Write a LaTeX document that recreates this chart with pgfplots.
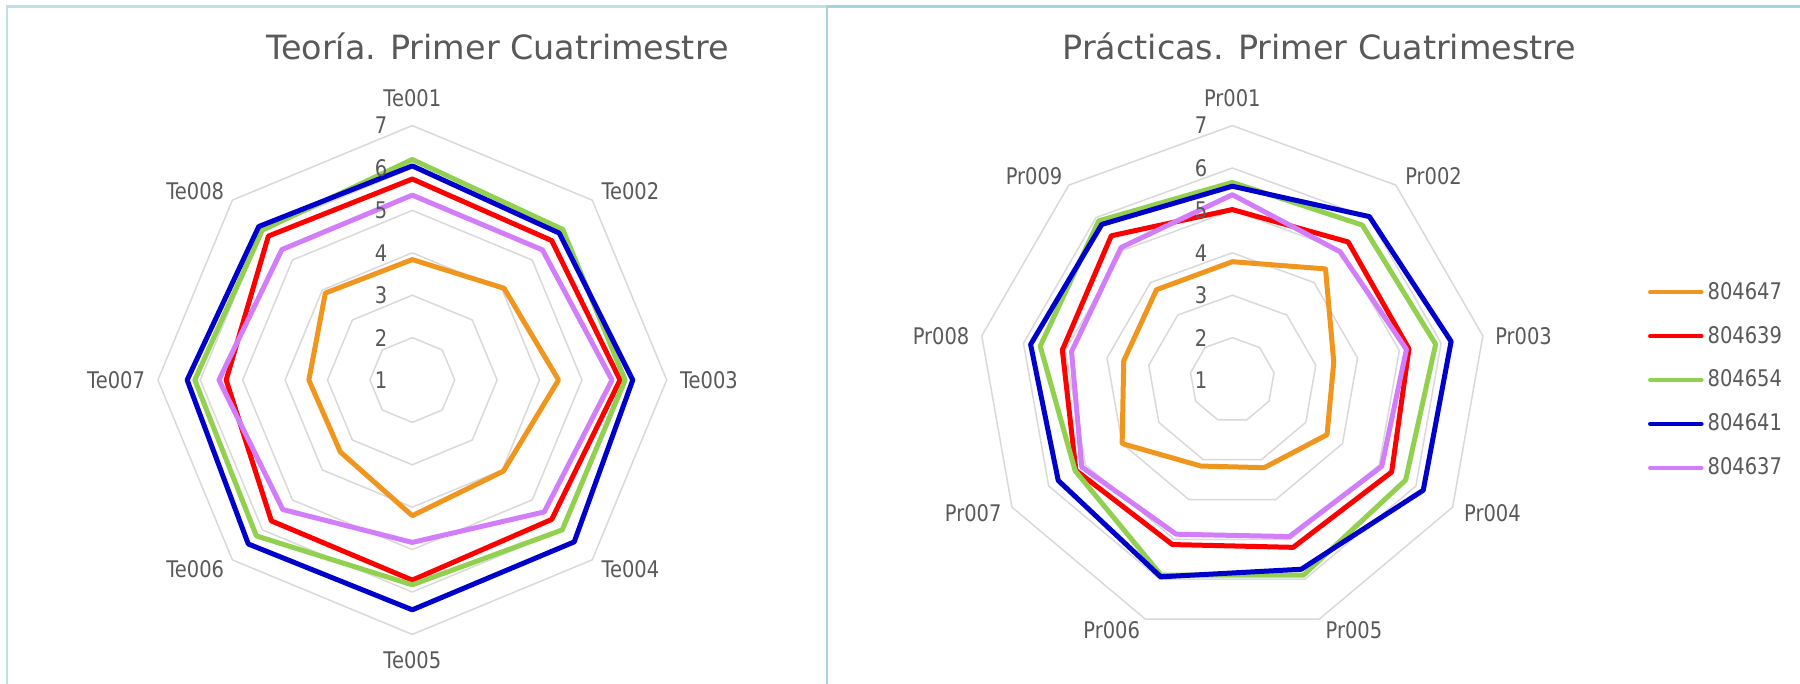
\documentclass[border=0pt]{standalone}
\usepackage{fontspec}
\setmainfont{DejaVu Sans}
\newfontfamily\lblfont{DejaVu Sans}[FakeStretch=0.85]
\usepackage{pgfplots}
\usepackage{pgfplotstable}
\pgfplotsset{compat=1.18}

\definecolor{cOrange}{RGB}{240,150,30}
\definecolor{cRed}{RGB}{255,0,0}
\definecolor{cGreen}{RGB}{146,208,80}
\definecolor{cBlue}{RGB}{0,0,204}
\definecolor{cPurple}{RGB}{210,125,250}
\definecolor{txt}{RGB}{89,89,89}
\definecolor{ringgray}{RGB}{217,217,217}
\definecolor{frameL}{RGB}{190,224,235}
\definecolor{frameR}{RGB}{166,210,224}

% Teoria: spoke angle (deg) and score of each student
\pgfplotstableread{
ang   s804647 s804639 s804654 s804641 s804637
90    3.84    5.74    6.20    6.05    5.36
45    4.06    5.65    6.02    5.90    5.34
0     4.45    5.90    6.02    6.20    5.71
-45   4.04    5.65    6.00    6.40    5.40
-90   4.20    5.72    5.83    6.42    4.83
-135  3.40    5.70    6.20    6.47    5.32
180   3.44    5.39    6.13    6.31    5.56
135   3.90    5.80    6.00    6.12    5.35
}\teoria

% Practicas
\pgfplotstableread{
ang   s804647 s804639 s804654 s804641 s804637
90    3.79    5.02    5.66    5.57    5.37
50    4.42    5.25    5.77    6.03    4.95
10    3.43    5.23    5.87    6.24    5.17
-30   3.58    5.34    5.72    6.20    5.07
-70   3.20    5.20    5.90    5.75    4.93
-110  3.16    5.13    5.90    5.94    4.87
-150  4.00    5.26    5.28    5.74    5.10
170   3.60    5.07    5.60    5.83    4.85
130   3.78    5.44    5.90    5.79    5.08
}\practicas

\pgfplotsset{
  radar/.style={
    hide axis, clip=false, anchor=center,
    x=21.2pt, y=21.2pt,
    xmin=-7, xmax=7, ymin=-7, ymax=7,
  },
  ring/.style={ringgray, line width=0.75pt, forget plot, data cs=polar},
  serie/.style={#1, line width=2.5pt, line join=round, data cs=polar},
}
\tikzset{
  lbl/.style={font=\lblfont\fontsize{11.45}{13}\selectfont, text=txt, inner sep=0pt},
  ttl/.style={font=\fontsize{16.7}{20}\selectfont, text=txt, inner sep=0pt, anchor=base},
}

\begin{document}
\begin{tikzpicture}

% panel frames
\draw[frameL, line width=1.15pt] (3.5pt,-345pt) -- (3.5pt,-3.25pt) -- (413.6pt,-3.25pt);
\draw[frameR, line width=1.15pt] (413.65pt,-345pt) -- (413.65pt,-3.25pt) -- (905pt,-3.25pt);

\node[ttl] at (248.75pt,-29.65pt) {Teoría. Primer Cuatrimestre};
\node[ttl] at (659.7pt,-29.65pt) {Prácticas. Primer Cuatrimestre};

% ---- Teoria ----
\begin{axis}[radar, at={(206.15pt,-190pt)}]
\pgfplotsinvokeforeach{1,...,6}{
  \addplot[ring] table[x=ang, y expr=#1] {\teoria} -- cycle;
}
\addplot[serie=cOrange] table[x=ang, y expr=\thisrow{s804647}-1] {\teoria} -- cycle;
\addplot[serie=cRed]    table[x=ang, y expr=\thisrow{s804639}-1] {\teoria} -- cycle;
\addplot[serie=cGreen]  table[x=ang, y expr=\thisrow{s804654}-1] {\teoria} -- cycle;
\addplot[serie=cBlue]   table[x=ang, y expr=\thisrow{s804641}-1] {\teoria} -- cycle;
\addplot[serie=cPurple] table[x=ang, y expr=\thisrow{s804637}-1] {\teoria} -- cycle;

\node[lbl, xshift=-15.6pt] at (axis cs:0,0) {1};
\node[lbl, xshift=-15.6pt] at (axis cs:0,1) {2};
\node[lbl, xshift=-15.6pt] at (axis cs:0,2) {3};
\node[lbl, xshift=-15.6pt] at (axis cs:0,3) {4};
\node[lbl, xshift=-15.6pt] at (axis cs:0,4) {5};
\node[lbl, xshift=-15.6pt] at (axis cs:0,5) {6};
\node[lbl, xshift=-15.6pt] at (axis cs:0,6) {7};

\node[lbl, anchor=south, yshift=136.2pt] at (axis cs:0,0) {Te001};
\node[lbl, anchor=south west, xshift=94.4pt, yshift=89.9pt] at (axis cs:0,0) {Te002};
\node[lbl, anchor=west, xshift=133.7pt] at (axis cs:0,0) {Te003};
\node[lbl, anchor=north west, xshift=94.4pt, yshift=-89.9pt] at (axis cs:0,0) {Te004};
\node[lbl, anchor=north, yshift=-135.5pt] at (axis cs:0,0) {Te005};
\node[lbl, anchor=north east, xshift=-93.9pt, yshift=-89.9pt] at (axis cs:0,0) {Te006};
\node[lbl, anchor=east, xshift=-133.5pt] at (axis cs:0,0) {Te007};
\node[lbl, anchor=south east, xshift=-93.9pt, yshift=89.9pt] at (axis cs:0,0) {Te008};
\end{axis}

% ---- Practicas ----
\begin{axis}[radar, at={(616.15pt,-190pt)},
  legend style={at={(1.2003,0.5)}, anchor=west, draw=none, fill=none,
    inner sep=0pt, outer sep=0pt, row sep=11.95pt, column sep=2pt,
    font=\lblfont\fontsize{11.45}{13}\selectfont, text=txt,
    nodes={inner sep=0pt}},
  legend cell align=left,
  legend image code/.code={\draw[#1, line width=2.2pt, line cap=round] (1.1pt,0pt) -- (26.7pt,0pt);},
]
\pgfplotsinvokeforeach{1,...,6}{
  \addplot[ring] table[x=ang, y expr=#1] {\practicas} -- cycle;
}
\addplot[serie=cOrange] table[x=ang, y expr=\thisrow{s804647}-1] {\practicas} -- cycle;
\addlegendentry{804647}
\addplot[serie=cRed]    table[x=ang, y expr=\thisrow{s804639}-1] {\practicas} -- cycle;
\addlegendentry{804639}
\addplot[serie=cGreen]  table[x=ang, y expr=\thisrow{s804654}-1] {\practicas} -- cycle;
\addlegendentry{804654}
\addplot[serie=cBlue]   table[x=ang, y expr=\thisrow{s804641}-1] {\practicas} -- cycle;
\addlegendentry{804641}
\addplot[serie=cPurple] table[x=ang, y expr=\thisrow{s804637}-1] {\practicas} -- cycle;
\addlegendentry{804637}

\node[lbl, xshift=-15.6pt] at (axis cs:0,0) {1};
\node[lbl, xshift=-15.6pt] at (axis cs:0,1) {2};
\node[lbl, xshift=-15.6pt] at (axis cs:0,2) {3};
\node[lbl, xshift=-15.6pt] at (axis cs:0,3) {4};
\node[lbl, xshift=-15.6pt] at (axis cs:0,4) {5};
\node[lbl, xshift=-15.6pt] at (axis cs:0,5) {6};
\node[lbl, xshift=-15.6pt] at (axis cs:0,6) {7};

\node[lbl, anchor=south, yshift=136.2pt] at (axis cs:0,0) {Pr001};
\node[lbl, anchor=south west, xshift=86.3pt, yshift=97.4pt] at (axis cs:0,0) {Pr002};
\node[lbl, anchor=west, xshift=131.3pt, yshift=22.1pt] at (axis cs:0,0) {Pr003};
\node[lbl, anchor=north west, xshift=115.7pt, yshift=-62.1pt] at (axis cs:0,0) {Pr004};
\node[lbl, anchor=north west, xshift=46.5pt, yshift=-120.8pt] at (axis cs:0,0) {Pr005};
\node[lbl, anchor=north east, xshift=-46pt, yshift=-120.8pt] at (axis cs:0,0) {Pr006};
\node[lbl, anchor=north east, xshift=-115.2pt, yshift=-62.1pt] at (axis cs:0,0) {Pr007};
\node[lbl, anchor=east, xshift=-131.3pt, yshift=22.1pt] at (axis cs:0,0) {Pr008};
\node[lbl, anchor=south east, xshift=-84.8pt, yshift=97.4pt] at (axis cs:0,0) {Pr009};
\end{axis}

\pgfresetboundingbox
\path[use as bounding box] (0pt,0pt) rectangle (900pt,-342pt);
\end{tikzpicture}
\end{document}
